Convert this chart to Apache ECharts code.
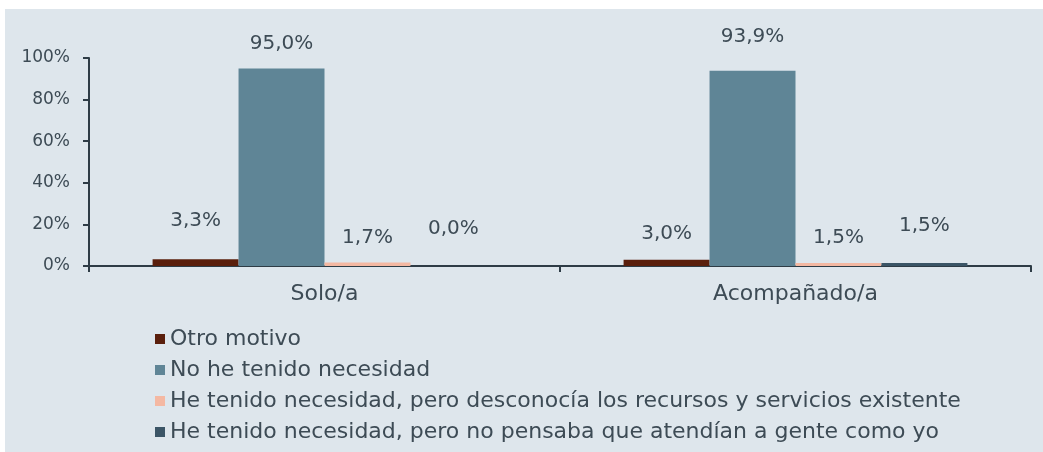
<!DOCTYPE html>
<html>
<head>
<meta charset="utf-8">
<script src="https://cdn.jsdelivr.net/npm/echarts@6/dist/echarts.min.js"></script>
<style>
  html, body { margin: 0; padding: 0; background: #ffffff; }
  #panel { position: absolute; left: 5px; top: 9px; width: 1038px; height: 443px; background: #dee6ec; }
  #main { position: absolute; left: 0; top: 0; width: 1043px; height: 452px; }
</style>
</head>
<body>
<div id="panel"></div>
<div id="main"></div>
<script>
    'use strict';

    // categories (x axis)
    var categories = ['Solo/a', 'Acompañado/a'];

    // series names (legend)
    var seriesNames = [
        'Otro motivo',
        'No he tenido necesidad',
        'He tenido necesidad, pero desconocía los recursos y servicios existente',
        'He tenido necesidad, pero no pensaba que atendían a gente como yo'
    ];

    // values in % per series, one per category
    var otroMotivo = [3.3, 3.0];
    var noNecesidad = [95.0, 93.9];
    var desconocia = [1.7, 1.5];
    var noPensaba = [0.0, 1.5];

    var yTicks = [0, 20, 40, 60, 80, 100];

    var seriesValues = [otroMotivo, noNecesidad, desconocia, noPensaba];
    var colors = ['#5a1f0c', '#5f8596', '#f4b8a2', '#3b5566'];
    // label distance above each bar (the labels were nudged by hand in the original)
    var labelDist = [[28, 16], [15, 24], [15, 15], [27, 27]];

    var textColor = '#3d4b55';
    var axisColor = '#2e3c46';
    var font = 'DejaVu Sans';

    var chart = echarts.init(document.getElementById('main'), null, { renderer: 'canvas' });

    var series = seriesValues.map(function (vals, s) {
        return {
            name: seriesNames[s],
            type: 'bar',
            barGap: '0%',
            barCategoryGap: '27%',
            itemStyle: { color: colors[s] },
            data: vals.map(function (v, i) {
                return {
                    value: v,
                    label: { distance: labelDist[s][i] }
                };
            }),
            label: {
                show: true,
                position: 'top',
                color: textColor,
                fontFamily: font,
                fontSize: 20,
                formatter: function (p) {
                    return p.value.toFixed(1).replace('.', ',') + '%';
                }
            }
        };
    });

    var option = {
        animation: false,
        backgroundColor: 'transparent',
        textStyle: { fontFamily: font, color: textColor },
        grid: { left: 89, right: 12, top: 58, bottom: 186, containLabel: false },
        legend: {
            orient: 'vertical',
            left: 150,
            top: 323,
            icon: 'rect',
            itemWidth: 10,
            itemHeight: 10,
            itemGap: 9,
            selectedMode: false,
            textStyle: { fontFamily: font, fontSize: 22, lineHeight: 22, color: textColor },
            data: seriesNames
        },
        xAxis: {
            type: 'category',
            data: categories,
            axisLine: { lineStyle: { color: axisColor, width: 2 } },
            axisTick: { show: true, length: 6, lineStyle: { color: axisColor, width: 2 } },
            axisLabel: { color: textColor, fontFamily: font, fontSize: 22, margin: 17 }
        },
        yAxis: {
            type: 'value',
            min: yTicks[0],
            max: yTicks[yTicks.length - 1],
            interval: 20,
            splitLine: { show: false },
            axisLine: { show: true, lineStyle: { color: axisColor, width: 2 } },
            axisTick: { show: true, length: 6, lineStyle: { color: axisColor, width: 2 } },
            axisLabel: {
                color: textColor, fontFamily: font, fontSize: 17, margin: 19,
                formatter: function (v) { return v + '%'; }
            }
        },
        series: series
    };

    chart.setOption(option);
</script>
</body>
</html>
